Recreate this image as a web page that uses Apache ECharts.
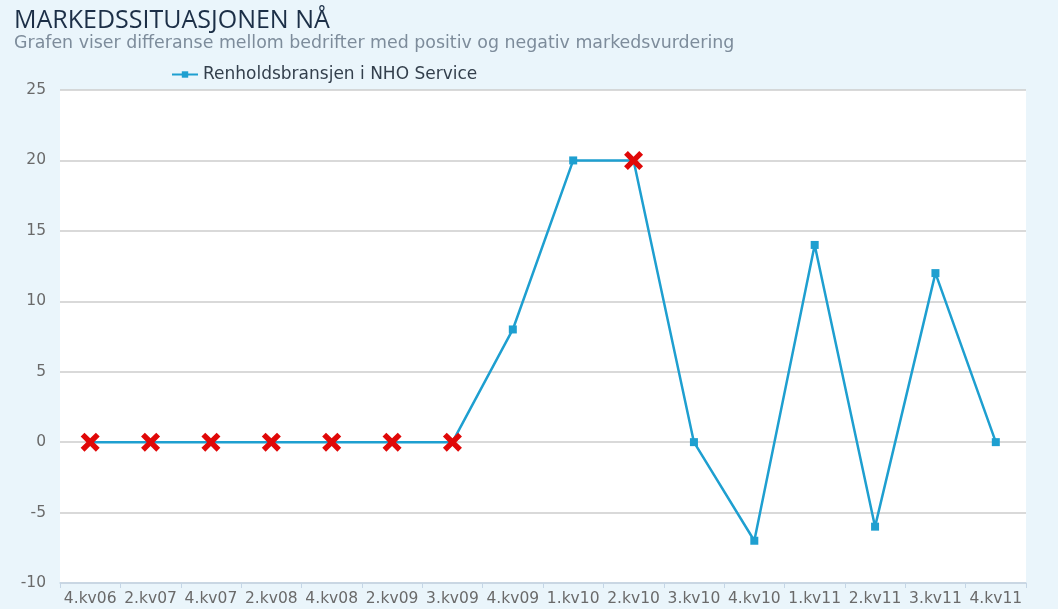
<!DOCTYPE html>
<html>
<head>
<meta charset="utf-8">
<style>
  html, body { margin: 0; padding: 0; background: #eaf5fb; }
  #chart { width: 1058px; height: 609px; }
</style>
<script src="https://cdn.jsdelivr.net/npm/echarts@6/dist/echarts.min.js"></script>
</head>
<body>
<div id="chart"></div>
<script>
  // quarters on the x axis
  var categories = ['4.kv06', '2.kv07', '4.kv07', '2.kv08', '4.kv08', '2.kv09', '3.kv09', '4.kv09',
                    '1.kv10', '2.kv10', '3.kv10', '4.kv10', '1.kv11', '2.kv11', '3.kv11', '4.kv11'];
  var values = [0, 0, 0, 0, 0, 0, 0, 8, 20, 20, 0, -7, 14, -6, 12, 0];
  // points drawn with a red cross instead of the square
  var crossed = [true, true, true, true, true, true, true, false, false, true, false, false, false, false, false, false];
  var yTicks = { min: -10, max: 25, step: 5 };

  var CROSS = 'path://M4,0 L10,6 L16,0 L20,4 L14,10 L20,16 L16,20 L10,14 L4,20 L0,16 L6,10 L0,4 Z';
  var font = "'DejaVu Sans', Verdana, sans-serif";

  var points = values.map(function (v, i) {
    if (!crossed[i]) return v;
    return {
      value: v,
      symbol: CROSS,
      symbolSize: 19,
      itemStyle: { color: '#e00808' }
    };
  });

  var chart = echarts.init(document.getElementById('chart'));
  chart.setOption({
    backgroundColor: '#eaf5fb',
    animation: false,
    title: {
      text: 'MARKEDSSITUASJONEN NÅ',
      subtext: 'Grafen viser differanse mellom bedrifter med positiv og negativ markedsvurdering',
      left: 9,
      top: 3,
      itemGap: 2,
      textStyle: { fontFamily: "'Open Sans', sans-serif", fontSize: 25, fontWeight: 500, color: '#1c2f47' },
      subtextStyle: { fontFamily: font, fontSize: 17.4, color: '#7d8c9b' }
    },
    legend: {
      left: 166,
      top: 61,
      itemWidth: 26,
      itemHeight: 8,
      itemGap: 6,
      textStyle: { fontFamily: font, fontSize: 17, color: '#333f4c' },
      data: ['Renholdsbransjen i NHO Service']
    },
    grid: {
      left: 60,
      right: 32,
      top: 90,
      bottom: 26,
      show: true,
      backgroundColor: '#ffffff',
      borderWidth: 0
    },
    xAxis: {
      type: 'category',
      data: categories,
      boundaryGap: true,
      axisLine: { onZero: false, lineStyle: { color: '#c5d6e6', width: 1.5 } },
      axisTick: { show: true, length: 5, lineStyle: { color: '#c5d6e6' } },
      axisLabel: { fontFamily: font, fontSize: 15.5, color: '#6a6a6a', margin: 8, interval: 0 }
    },
    yAxis: {
      type: 'value',
      min: yTicks.min,
      max: yTicks.max,
      interval: yTicks.step,
      axisLine: { show: false },
      axisTick: { show: false },
      axisLabel: { fontFamily: font, fontSize: 15.5, color: '#6a6a6a', margin: 14 },
      splitLine: { lineStyle: { color: '#cccccc', width: 1.5 } }
    },
    series: [{
      name: 'Renholdsbransjen i NHO Service',
      type: 'line',
      data: points,
      symbol: 'rect',
      symbolSize: 8,
      showAllSymbol: true,
      color: '#1e9fd0',
      lineStyle: { width: 2.5, color: '#1e9fd0' },
      itemStyle: { color: '#1e9fd0' }
    }]
  });
</script>
</body>
</html>
